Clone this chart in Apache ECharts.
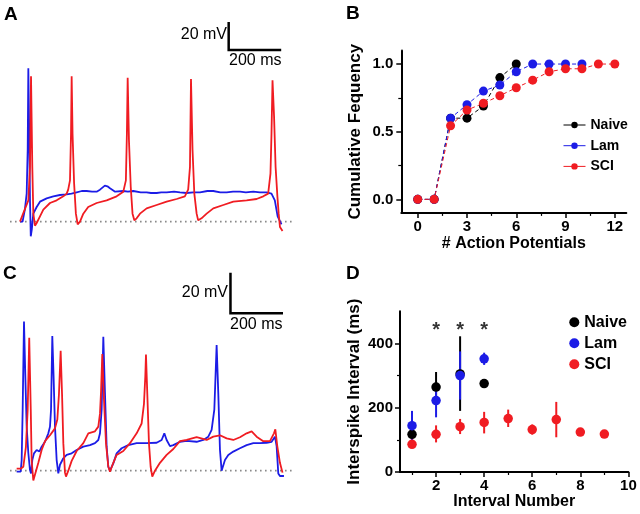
<!DOCTYPE html>
<html><head><meta charset="utf-8">
<script src="https://cdn.jsdelivr.net/npm/echarts@6/dist/echarts.min.js"></script>
<style>html,body{margin:0;padding:0;background:#fff}#c{width:640px;height:514px}</style>
</head><body><div id="c"></div>
<script>
// ---------- Panel A traces: [time (ms), membrane potential (mV)] ----------
const traceABlue = [[39,-60],[49,-60],[58,-51],[65,-39],[69,-6],[71.5,55],[75,6],[78,-44],[81,-71],[85,-66],[91,-54],[104,-49],[117,-45],[143,-42.5],[169,-41],[195,-40],[221,-39.5],[240,-39],[260,-38],[280,-37],[299,-37],[320,-37.5],[338,-37.5],[351,-36],[370,-33],[380,-33.5],[390,-35],[410,-37.5],[442,-37],[460,-37.5],[481,-37],[510,-38],[533,-38],[550,-38.5],[572,-38.5],[590,-38],[611,-38],[640,-37.5],[663,-38],[689,-38.5],[715,-38],[741,-38],[770,-37],[793,-37],[820,-38],[845,-38],[870,-37.5],[897,-37.5],[920,-38],[949,-37.5],[975,-38],[1001,-38],[1020,-39],[1033,-44],[1044,-56],[1059,-62]];
const traceARed = [[39,-60],[45,-60],[71.5,-44],[78,-19],[82,49],[87,-19],[91,-54],[97.5,-63],[104,-61],[117,-56],[130,-51],[156,-46],[182,-44],[208,-41],[221,-39],[227,-36],[234,-29],[238,6],[240.5,49],[244,6],[250,-31],[257,-54],[264,-62],[273,-60],[286,-54],[305,-49],[338,-46],[377,-44],[416,-41],[442,-37.5],[452,-29],[456,6],[459,48],[464,1],[471,-34],[478,-54],[485,-59],[494,-57.5],[507,-54],[533,-50],[572,-47.5],[611,-45],[650,-43],[682,-41],[695,-36],[702,-19],[706,47],[712,-6],[719,-39],[728,-54],[734,-59],[747,-57.5],[767,-54],[793,-50],[832,-47.5],[871,-45],[923,-44],[962,-43],[988,-41],[1007,-39],[1016,-24],[1020,6],[1024,46],[1030,19],[1036,-19],[1043,-41],[1048,-54],[1053,-64],[1063,-67]];

// ---------- Panel C traces ----------
const traceCBlue = [[26,-60.5],[41.6,-60.5],[45.5,-54.6],[49.4,-29],[54.6,15.8],[59.8,-12],[65,-37.6],[71.5,-51],[78,-59.7],[82,-61.4],[87,-54.6],[93.6,-51.2],[104,-49.5],[114.4,-50.3],[123.5,-47.8],[136.5,-45.3],[149.5,-41],[156,-37.6],[160,-29],[165,8.5],[170,-12],[175.5,-37.6],[182,-54.6],[188.5,-61.4],[195,-57],[208,-53.7],[221,-52],[240.5,-51.2],[260,-49.5],[286,-47.8],[312,-47],[331.5,-46],[344.5,-44.4],[351,-41],[357.5,-29],[364,8.1],[370.5,-20.7],[377,-47.8],[383.5,-58],[390,-60],[403,-56.3],[416,-51.2],[435.5,-48.6],[461.5,-47],[494,-46],[533,-46],[572,-45.8],[591.5,-44.4],[602,-41],[611,-44.4],[624,-47.5],[637,-47],[663,-45.3],[689,-44.9],[728,-45.3],[754,-44.4],[773.5,-42.7],[786.5,-39.3],[797,-29],[806,3.9],[812.5,-20.7],[819,-49.5],[825.5,-60],[838.5,-54.6],[851.5,-52],[871,-50.3],[897,-48.6],[923,-47],[949,-46],[975,-46],[1001,-45.8],[1020.5,-45.3],[1033.5,-42.7],[1040,-47.5],[1046.5,-61.4],[1053,-62.7],[1068.6,-62.7]];
const traceCRed = [[26,-59],[41.6,-59],[52,-58],[62,-48],[69,-29],[75,7.6],[81,-29],[84.5,-55],[91,-65],[97.5,-64],[110.5,-56],[123.5,-49.5],[136.5,-45],[156,-42],[175.5,-38.5],[184.6,-34],[191,-21],[197.6,1],[203,-21],[208,-46],[214.5,-61],[218.4,-63],[227.5,-60],[240.5,-55],[260,-50],[286,-46],[305.5,-41],[331.5,-40],[344.5,-37.6],[351,-31],[355,-20],[360,-0.7],[366.6,-24],[374.4,-46],[383.5,-58],[390,-60.5],[403,-56],[416,-52],[442,-50],[468,-46],[494,-41],[513.5,-36],[522.6,-26],[527.8,-12],[530.4,-1],[535.6,-21],[542,-46],[548.6,-58],[555,-63],[565.5,-60],[585,-56],[611,-52],[637,-49],[663,-45],[689,-44.4],[728,-43],[767,-44.4],[793,-42.7],[819,-42],[845,-43.6],[871,-44.4],[897,-43],[923,-41],[942.5,-40],[962,-42.7],[988,-45],[1014,-45],[1029.6,-41],[1035,-39],[1042.6,-47.5],[1053,-56],[1063,-61]];

// resting level (dotted) and scale bars [start time ms, start mV]
const restLevel = -60;
const restSpan = [0, 1100];
const scaleBarA = [853, 68.75];
const scaleBarC = [860, 20];
const scaleMs = 200, scaleMv = 20;

// ---------- Panel B: cumulative frequency ----------
const apCounts = [0,1,2,3,4,5,6,7,8,9,10,11,12];
const cumNaive = [0,0,0.6,0.6,0.69,0.9,1.0];
const cumLam   = [0,0,0.6,0.7,0.8,0.845,0.943,1,1,1,1];
const cumSCI   = [0,0,0.544,0.66,0.71,0.766,0.825,0.881,0.943,0.965,0.965,1,1];
const bTicksX = [0,3,6,9,12], bMinorX = [1.5,4.5,7.5,10.5];
const bTicksY = [0,0.5,1.0], bMinorY = [0.25,0.75];

// ---------- Panel D: interspike interval (mean, low, high) ----------
const isiNaiveX = [1,2,3,4];
const isiNaive  = [117,264,305,275];
const isiNaiveLo = [108,217,190,268];
const isiNaiveHi = [126,311,422,282];
const isiLamX = [1,2,3,4];
const isiLam   = [144,222,300,352];
const isiLamLo = [98,170,225,333];
const isiLamHi = [190,274,375,371];
const isiSCIX = [1,2,3,4,5,6,7,8,9];
const isiSCI   = [86,117,141,154,166,132,163,124,118];
const isiSCILo = [78,92,118,120,140,116,108,117,112];
const isiSCIHi = [94,145,165,187,194,148,218,131,124];
const starX = [2,3,4];
const starY = [440,440,440];
const dTicksX = [2,4,6,8,10], dMinorX = [1,3,5,7,9];
const dTicksY = [0,200,400], dMinorY = [100,300];

const FONT = "'Liberation Sans', Arial, Helvetica, sans-serif";
const RED = '#f01c22', BLUE = '#1c1ce6', BLACK = '#000000', GREY = '#8a8a8a';

const chart = echarts.init(document.getElementById('c'), null, {renderer:'canvas'});

function hiddenAxis(grid, min, max){ return {gridIndex:grid, type:'value', min, max, show:false}; }
function majorAxis(grid, pos, min, max, ticks, fmt, margin){
  return {gridIndex:grid, type:'value', position:pos, min, max,
    axisLine:{show:true, onZero:false, lineStyle:{color:'#000', width:2}},
    axisTick:{show:true, inside:false, length:5, customValues:ticks, lineStyle:{color:'#000', width:1.5}},
    axisLabel:{show:true, customValues:ticks, formatter:fmt, margin, color:'#000', fontFamily:FONT, fontWeight:'bold', fontSize:15},
    splitLine:{show:false}};
}
function minorAxis(grid, pos, min, max, ticks){
  return {gridIndex:grid, type:'value', position:pos, min, max,
    axisLine:{show:false, onZero:false},
    axisTick:{show:true, inside:false, length:3, customValues:ticks, lineStyle:{color:'#000', width:1.2}},
    axisLabel:{show:false}, splitLine:{show:false}};
}
function withName(ax, name, gap, size){
  return Object.assign(ax, {name, nameLocation:'middle', nameGap:gap,
    nameTextStyle:{color:'#000', fontFamily:FONT, fontWeight:'bold', fontSize:size}});
}
const zip = (xs, ys) => ys.map((y,i)=>[xs[i], y]);
const zip3 = (xs, a, b) => xs.map((x,i)=>[x, a[i], b[i]]);

function traceSeries(grid, data, color){
  return {type:'line', xAxisIndex:grid, yAxisIndex:grid, data, showSymbol:false, symbol:'none',
    lineStyle:{color, width:1.8}, silent:true, animation:false, z:3};
}
function restSeries(grid){
  return {type:'line', xAxisIndex:grid, yAxisIndex:grid, data:[[restSpan[0],restLevel],[restSpan[1],restLevel]],
    symbol:'none', lineStyle:{color:GREY, width:1.6, type:[1.6,3.4]}, silent:true, animation:false, z:2};
}
function barSeries(grid, s){
  return {type:'line', xAxisIndex:grid, yAxisIndex:grid,
    data:[[s[0], s[1]+scaleMv],[s[0], s[1]],[s[0]+scaleMs, s[1]]],
    symbol:'none', lineStyle:{color:'#000', width:2.5, cap:'square', join:'miter'}, silent:true, animation:false};
}
function cumSeries(name, ys, color){
  return {name, type:'line', xAxisIndex:1, yAxisIndex:1, data:zip(apCounts, ys),
    symbol:'circle', symbolSize:9, itemStyle:{color, opacity:1}, lineStyle:{color, width:1, type:[4,3]}, animation:false};
}
function errSeries(xs, lo, hi, color){
  return {type:'custom', xAxisIndex:4, yAxisIndex:4, data:zip3(xs, lo, hi), encode:{x:0, y:[1,2]},
    renderItem:(p, api)=>{
      const a = api.coord([api.value(0), api.value(1)]);
      const b = api.coord([api.value(0), api.value(2)]);
      return {type:'line', shape:{x1:a[0], y1:a[1], x2:b[0], y2:b[1]}, style:{stroke:color, lineWidth:2}};
    }, animation:false, silent:true};
}
function meanSeries(name, xs, ys, color){
  return {name, type:'scatter', xAxisIndex:4, yAxisIndex:4, data:zip(xs, ys),
    symbol:'circle', symbolSize:9.5, itemStyle:{color, opacity:1}, animation:false};
}

const option = {
  backgroundColor:'#fff',
  animation:false,
  textStyle:{fontFamily:FONT},
  grid:[
    {left:10, top:8.33, width:282, height:240},
    {left:401.3, top:50.5, width:225, height:162.4},
    {left:10, top:264.17, width:282, height:226.17},
    {left:400, top:311.2, width:228.4, height:160.8}
  ],
  xAxis:[
    hiddenAxis(0, 0, 1100),
    withName(majorAxis(1, 'bottom', -1, 12.7, bTicksX, v=>String(v), 6), '# Action Potentials', 23, 16),
    minorAxis(1, 'bottom', -1, 12.7, bMinorX),
    hiddenAxis(2, 0, 1100),
    withName(majorAxis(3, 'bottom', 0.5, 10, dTicksX, v=>String(v), 6), 'Interval Number', 20, 16),
    minorAxis(3, 'bottom', 0.5, 10, dMinorX)
  ],
  yAxis:[
    hiddenAxis(0, -80, 100),
    withName(majorAxis(1, 'left', -0.1, 1.1, bTicksY, v=>v.toFixed(1), 8), 'Cumulative Fequency', 37, 17),
    minorAxis(1, 'left', -0.1, 1.1, bMinorY),
    hiddenAxis(2, -70, 45),
    withName(majorAxis(3, 'left', 0, 500, dTicksY, v=>String(v), 7), 'Interspike Interval (ms)', 37, 17),
    minorAxis(3, 'left', 0, 500, dMinorY)
  ],
  legend:[
    {data:['Naive','Lam','SCI'], orient:'vertical', left:558, top:113, itemWidth:22, itemHeight:8, itemGap:6.7,
     textStyle:{color:'#000', fontFamily:FONT, fontWeight:'bold', fontSize:14, lineHeight:14},
     lineStyle:{type:'solid', width:1}, selectedMode:false},
    {data:['Naive','Lam','SCI'].map(n=>({name:n, icon:'circle'})), orient:'vertical', left:564.3, top:309.3,
     itemWidth:10, itemHeight:10, itemGap:5,
     textStyle:{color:'#000', fontFamily:FONT, fontWeight:'bold', fontSize:16, lineHeight:16}, selectedMode:false}
  ],
  series:[
    // Panel A
    restSeries(0),
    traceSeries(0, traceABlue, BLUE),
    traceSeries(0, traceARed, RED),
    barSeries(0, scaleBarA),
    // Panel C
    restSeries(3),
    traceSeries(3, traceCBlue, BLUE),
    traceSeries(3, traceCRed, RED),
    barSeries(3, scaleBarC),
    // Panel B
    cumSeries('Naive', cumNaive, BLACK),
    cumSeries('Lam', cumLam, BLUE),
    cumSeries('SCI', cumSCI, RED),
    // Panel D
    errSeries(isiNaiveX, isiNaiveLo, isiNaiveHi, BLACK),
    meanSeries('Naive', isiNaiveX, isiNaive, BLACK),
    errSeries(isiLamX, isiLamLo, isiLamHi, BLUE),
    meanSeries('Lam', isiLamX, isiLam, BLUE),
    errSeries(isiSCIX, isiSCILo, isiSCIHi, RED),
    meanSeries('SCI', isiSCIX, isiSCI, RED),
    {type:'scatter', xAxisIndex:4, yAxisIndex:4, data:zip(starX, starY), symbolSize:1,
     itemStyle:{color:'rgba(0,0,0,0)'}, silent:true, animation:false,
     label:{show:true, position:'inside', formatter:'*', color:'#000', fontFamily:FONT, fontWeight:'bold', fontSize:20}}
  ],
  graphic:[
    {type:'text', left:4, top:5, style:{text:'A', font:'bold 19px '+FONT, fill:'#000'}},
    {type:'text', left:346, top:4, style:{text:'B', font:'bold 19px '+FONT, fill:'#000'}},
    {type:'text', left:3, top:264, style:{text:'C', font:'bold 19px '+FONT, fill:'#000'}},
    {type:'text', left:346, top:264, style:{text:'D', font:'bold 19px '+FONT, fill:'#000'}},
    {type:'text', right:640-227, top:27, style:{text:'20 mV', font:'16px '+FONT, fill:'#000'}},
    {type:'text', left:229, top:53, style:{text:'200 ms', font:'16px '+FONT, fill:'#000'}},
    {type:'text', right:640-228, top:285, style:{text:'20 mV', font:'16px '+FONT, fill:'#000'}},
    {type:'text', left:230, top:317, style:{text:'200 ms', font:'16px '+FONT, fill:'#000'}}
  ]
};
chart.setOption(option);
</script></body></html>
